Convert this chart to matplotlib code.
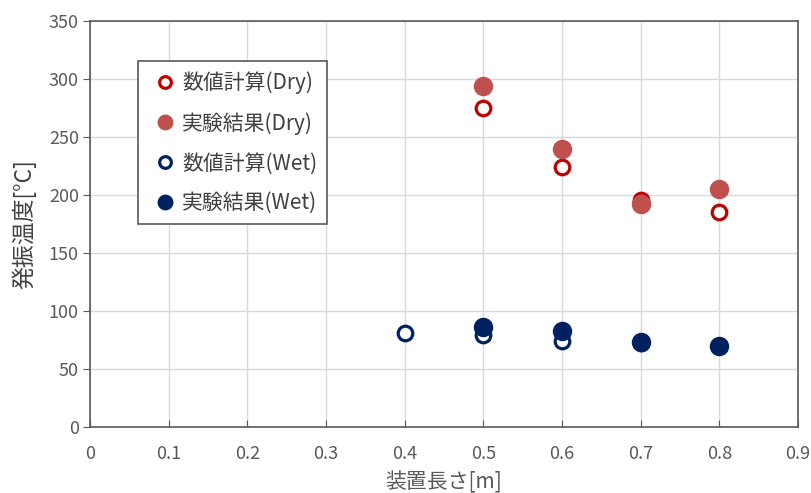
import matplotlib
matplotlib.use("Agg")
import matplotlib.pyplot as plt

plt.rcParams['font.family'] = ['Noto Sans CJK JP', 'DejaVu Sans']

# データ
length_calc_dry = [0.5, 0.6, 0.7, 0.8]
temp_calc_dry = [275, 224, 196, 185]
length_exp_dry = [0.5, 0.6, 0.7, 0.8]
temp_exp_dry = [294, 240, 192, 205]

length_calc_wet = [0.4, 0.5, 0.6, 0.7, 0.8]
temp_calc_wet = [81, 79, 74, 72, 70]
length_exp_wet = [0.5, 0.6, 0.7, 0.8]
temp_exp_wet = [86, 83, 73, 70]

x_ticks = [0, 0.1, 0.2, 0.3, 0.4, 0.5, 0.6, 0.7, 0.8, 0.9]
y_ticks = [0, 50, 100, 150, 200, 250, 300, 350]

fig = plt.figure(figsize=(8.12, 4.93), dpi=100)
ax = fig.add_axes([0.1108, 0.1339, 0.8720, 0.8235])

ax.plot(length_calc_dry, temp_calc_dry, 'o', ls='none', mfc='white', mec='#C00000',
        mew=2.3, ms=10.5, label='数値計算(Dry)')
ax.plot(length_exp_dry, temp_exp_dry, 'o', ls='none', mfc='#C0504D', mec='#C0504D',
        ms=13, label='実験結果(Dry)')
ax.plot(length_calc_wet, temp_calc_wet, 'o', ls='none', mfc='white', mec='#002060',
        mew=2.3, ms=10.5, label='数値計算(Wet)')
ax.plot(length_exp_wet, temp_exp_wet, 'o', ls='none', mfc='#002060', mec='#002060',
        ms=13, label='実験結果(Wet)')

ax.set_xlim(0, 0.9)
ax.set_ylim(0, 350)
ax.set_xticks(x_ticks)
ax.set_xticklabels([f"{v:g}" for v in x_ticks])
ax.set_yticks(y_ticks)

ax.grid(True, color='#D9D9D9', lw=1)
ax.set_axisbelow(True)
for s in ax.spines.values():
    s.set_color('#595959')
    s.set_linewidth(1.2)

ax.tick_params(axis='x', direction='in', length=5, color='#595959', labelsize=13,
               labelcolor='#595959', pad=13)
ax.tick_params(axis='y', direction='out', length=5, color='#595959', labelsize=13,
               labelcolor='#595959', pad=3)

ax.set_xlabel('装置長さ[m]', fontsize=15, color='#595959', labelpad=6)
ax.set_ylabel('発振温度[°C]', fontsize=16.5, color='#404040', labelpad=9)

leg = ax.legend(loc='upper left', bbox_to_anchor=(0.068, 0.901), borderaxespad=0,
                fontsize=15, markerscale=0.8, handletextpad=0.0, handlelength=1.6,
                labelspacing=0.85, borderpad=0.5, fancybox=False, framealpha=1,
                edgecolor='#595959')
leg.get_frame().set_linewidth(1.2)
for t in leg.get_texts():
    t.set_color('#404040')

fig.savefig('out.png', dpi=100)
